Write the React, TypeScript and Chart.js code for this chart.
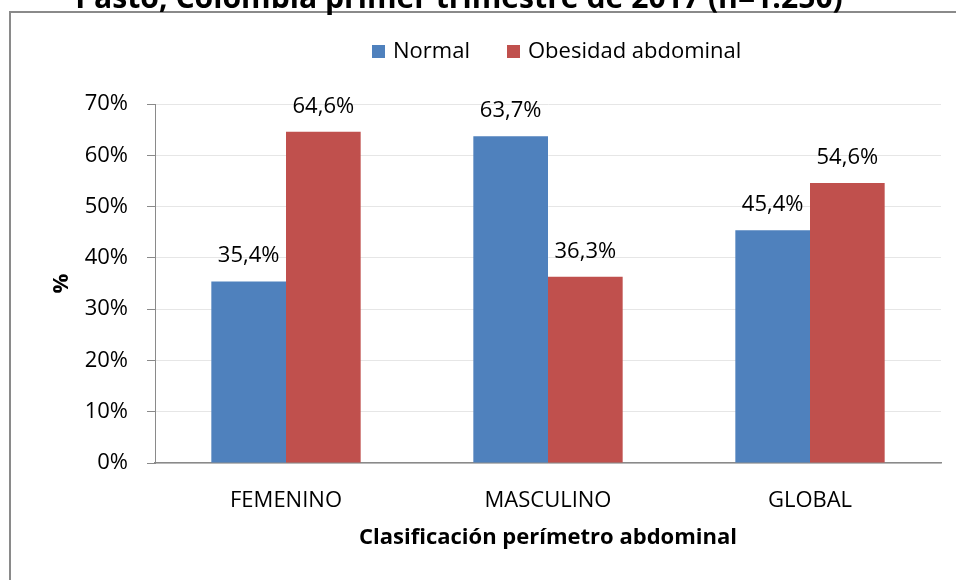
import React, { useEffect, useRef } from "react";
import { Chart, registerables } from "chart.js";

Chart.register(...registerables);

const categories = ["FEMENINO", "MASCULINO", "GLOBAL"];
const normalValues = [35.4, 63.7, 45.4];
const obesidadValues = [64.6, 36.3, 54.6];
const seriesNames = ["Normal", "Obesidad abdominal"];
const seriesColors = ["#4F81BD", "#C0504D"];
const yTicksMax = 70;
const yTickStep = 10;
const chartTitle = "Pasto, Colombia primer trimestre de 2017 (n=1.250)";
const xTitle = "Clasificación perímetro abdominal";
const yTitle = "%";

const FONT = "'Open Sans', sans-serif";
const FS = 22;

const fmt = (v: number) => v.toFixed(1).replace(".", ",") + "%";

const decorPlugin = {
  id: "decor",
  beforeDraw(chart: any) {
    const ctx = chart.ctx;
    ctx.save();
    ctx.fillStyle = "#ffffff";
    ctx.fillRect(0, 0, chart.width, chart.height);
    ctx.strokeStyle = "#8a8a8a";
    ctx.lineWidth = 2;
    ctx.beginPath();
    ctx.moveTo(10, chart.height + 5);
    ctx.lineTo(10, 12);
    ctx.lineTo(chart.width + 5, 12);
    ctx.stroke();
    ctx.fillStyle = "#000";
    ctx.font = `bold 28px ${FONT}`;
    const w = ctx.measureText(chartTitle).width;
    const size = (28 * 768) / w;
    ctx.font = `bold ${size}px ${FONT}`;
    ctx.textAlign = "center";
    ctx.textBaseline = "alphabetic";
    ctx.fillText(chartTitle, 459, 8);
    ctx.restore();
  },
  afterDraw(chart: any) {
    const ctx = chart.ctx;
    ctx.save();
    ctx.font = `${FS}px ${FONT}`;
    ctx.textBaseline = "alphabetic";
    ctx.textAlign = "left";
    const boxX = [372, 507];
    chart.data.datasets.forEach((ds: any, i: number) => {
      ctx.fillStyle = ds.backgroundColor;
      ctx.fillRect(boxX[i], 45, 13, 13);
      ctx.fillStyle = "#000";
      ctx.fillText(ds.label, boxX[i] + 21, 58);
    });
    ctx.restore();
  },
};

const dataLabelPlugin = {
  id: "dataLabels",
  afterDatasetsDraw(chart: any) {
    const ctx = chart.ctx;
    ctx.save();
    ctx.font = `${FS}px ${FONT}`;
    ctx.fillStyle = "#000";
    ctx.textAlign = "center";
    ctx.textBaseline = "alphabetic";
    chart.data.datasets.forEach((ds: any, di: number) => {
      const meta = chart.getDatasetMeta(di);
      meta.data.forEach((bar: any, i: number) => {
        ctx.fillText(fmt(ds.data[i]), bar.x, bar.y - 19);
      });
    });
    ctx.restore();
  },
};

export default function App() {
  const ref = useRef<HTMLCanvasElement>(null);
  useEffect(() => {
    if (!ref.current) return;
    const chart = new Chart(ref.current, {
      type: "bar",
      data: {
        labels: categories,
        datasets: [
          { label: seriesNames[0], data: normalValues, backgroundColor: seriesColors[0], borderWidth: 0 },
          { label: seriesNames[1], data: obesidadValues, backgroundColor: seriesColors[1], borderWidth: 0 },
        ],
      },
      options: {
        responsive: false,
        animation: false,
        devicePixelRatio: 1,
        layout: { padding: { left: 0, top: 104, right: 15, bottom: 0 } },
        plugins: {
          legend: { display: false },
          tooltip: { enabled: false },
          title: { display: false },
        },
        datasets: {
          bar: { categoryPercentage: 0.57, barPercentage: 1 },
        },
        scales: {
          x: {
            grid: { display: false },
            border: { display: true, color: "#8a8a8a", width: 1.5 },
            ticks: { color: "#000", font: { family: FONT, size: FS }, padding: 17 },
            title: {
              display: true,
              text: xTitle,
              color: "#000",
              font: { family: FONT, size: FS, weight: "bold" },
              padding: { top: 0, bottom: 29 },
            },
            afterFit(scale: any) {
              scale.height = 117;
            },
          },
          y: {
            min: 0,
            max: yTicksMax,
            ticks: {
              stepSize: yTickStep,
              color: "#000",
              font: { family: FONT, size: FS },
              padding: 19,
              callback: (v: any) => v + "%",
            },
            grid: { color: "#e6e6e6", tickColor: "#8a8a8a", tickLength: 8, lineWidth: 1 },
            border: { display: true, color: "#8a8a8a", width: 1 },
            title: {
              display: true,
              text: yTitle,
              color: "#000",
              font: { family: FONT, size: FS, weight: "bold" },
              padding: { top: 49, bottom: 0 },
            },
            afterFit(scale: any) {
              scale.width = 155;
            },
          },
        },
      },
      plugins: [decorPlugin, dataLabelPlugin],
    } as any);
    return () => chart.destroy();
  }, []);
  return (
    <div style={{ position: "fixed", left: 0, top: 0, width: 956, height: 580, background: "#fff" }}>
      <canvas ref={ref} width={956} height={580} style={{ display: "block" }} />
    </div>
  );
}
